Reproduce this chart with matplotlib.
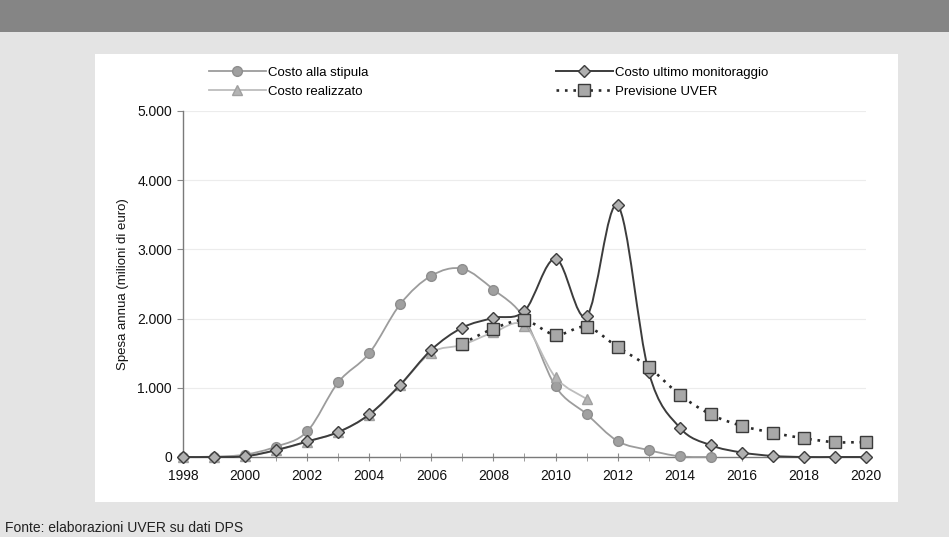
import matplotlib
matplotlib.use("Agg")
import matplotlib.pyplot as plt
from matplotlib.path import Path
from matplotlib.patches import PathPatch, Rectangle
from matplotlib.lines import Line2D
from matplotlib.ticker import FuncFormatter, MultipleLocator

plt.rcParams['font.family'] = ['Liberation Sans', 'DejaVu Sans']

stipula_years = list(range(1998, 2016))
stipula = [0, 5, 35, 150, 370, 1080, 1500, 2210, 2620, 2720, 2420, 2000,
           1020, 620, 230, 100, 10, 0]

realizzato_years = list(range(1998, 2012))
realizzato = [0, 0, 10, 95, 220, 360, 610, 1040, 1510, 1620, 1800, 1900,
              1150, 840]

monitoraggio_years = list(range(1998, 2021))
monitoraggio = [0, 0, 10, 100, 225, 360, 615, 1045, 1550, 1870, 2010, 2110,
                2865, 2035, 3635, 1230, 425, 170, 65, 15, 0, 0, 0]

uver_years = list(range(2007, 2021))
uver = [1640, 1855, 1975, 1765, 1880, 1590, 1300, 900, 615, 450, 350,
        270, 215, 215]

ytick_vals = [0, 1000, 2000, 3000, 4000, 5000]
xtick_vals = list(range(1998, 2021, 2))

W, H = 949, 537
fig = plt.figure(figsize=(W / 100, H / 100), dpi=100)
fig.patch.set_facecolor('#e4e4e4')

def fx(px):
    return px / W

def fy(py):
    return 1 - py / H

# header band
fig.patches.append(Rectangle((0, fy(32)), 1, 32 / H, transform=fig.transFigure,
                             facecolor='#858585', edgecolor='none', zorder=-2))
# white chart panel
fig.patches.append(Rectangle((fx(95), fy(502)), fx(898 - 95), (502 - 54) / H,
                             transform=fig.transFigure, facecolor='white',
                             edgecolor='none', zorder=-2))

ax = fig.add_axes([fx(183), fy(457), fx(866 - 183), (457 - 111) / H])
ax.set_zorder(2)
ax.set_facecolor('none')


def smooth_path(xs, ys):
    pts = list(zip(xs, ys))
    n = len(pts)
    verts = [pts[0]]
    codes = [Path.MOVETO]
    for i in range(n - 1):
        p0 = pts[i - 1] if i > 0 else pts[i]
        p1 = pts[i]
        p2 = pts[i + 1]
        p3 = pts[i + 2] if i + 2 < n else pts[i + 1]
        c1 = (p1[0] + (p2[0] - p0[0]) / 6, p1[1] + (p2[1] - p0[1]) / 6)
        c2 = (p2[0] - (p3[0] - p1[0]) / 6, p2[1] - (p3[1] - p1[1]) / 6)
        verts += [c1, c2, p2]
        codes += [Path.CURVE4] * 3
    return Path(verts, codes)


series = [
    (stipula_years, stipula, dict(color='#9c9c9c', lw=1.3, ls='-'),
     dict(marker='o', ms=7, mfc='#a0a0a0', mec='#8e8e8e'), 'Costo alla stipula'),
    (realizzato_years, realizzato, dict(color='#bdbdbd', lw=1.3, ls='-'),
     dict(marker='^', ms=7, mfc='#b4b4b4', mec='#a0a0a0'), 'Costo realizzato'),
    (monitoraggio_years, monitoraggio, dict(color='#3c3c3c', lw=1.4, ls='-'),
     dict(marker='D', ms=6, mfc='#b0b0b0', mec='#3c3c3c'), 'Costo ultimo monitoraggio'),
    (uver_years, uver, dict(color='#2a2a2a', lw=1.9, ls=(0, (1, 2.2))),
     dict(marker='s', ms=8, mfc='#a8a8a8', mec='#3a3a3a'), 'Previsione UVER'),
]

handles = {}
for z, (xs, ys, lstyle, mstyle, label) in enumerate(series):
    patch = PathPatch(smooth_path(xs, ys), facecolor='none',
                      edgecolor=lstyle['color'], lw=lstyle['lw'],
                      linestyle=lstyle['ls'], zorder=3 + z, clip_on=False)
    ax.add_patch(patch)
    ax.plot(xs, ys, linestyle='none', zorder=3.5 + z, clip_on=False,
            mew=1.0, **mstyle)
    handles[label] = Line2D([], [], color=lstyle['color'], lw=lstyle['lw'],
                            linestyle=lstyle['ls'], mew=1.0, **mstyle)

ax.set_xlim(1998, 2020)
ax.set_ylim(0, 5000)
ax.set_xticks(xtick_vals)
ax.xaxis.set_minor_locator(MultipleLocator(1))
ax.set_yticks(ytick_vals)
ax.yaxis.set_major_formatter(FuncFormatter(lambda v, p: f"{int(v):,}".replace(',', '.')))
ax.grid(axis='y', color='#ececec', lw=0.8)
ax.set_axisbelow(True)
for s in ['top', 'right']:
    ax.spines[s].set_visible(False)
for s in ['left', 'bottom']:
    ax.spines[s].set_color('#7a7a7a')
    ax.spines[s].set_linewidth(1.0)
ax.tick_params(axis='x', which='both', direction='inout', length=6, color='#8a8a8a',
               labelsize=10, labelcolor='#111111', pad=6)
ax.tick_params(axis='x', which='minor', length=6)
ax.tick_params(axis='y', direction='out', length=4, color='#8a8a8a',
               labelsize=10, labelcolor='#111111', pad=4)
ax.set_ylabel('Spesa annua (milioni di euro)', fontsize=9.5, color='#111111', labelpad=6)

order = ['Costo alla stipula', 'Costo realizzato', 'Costo ultimo monitoraggio', 'Previsione UVER']
fig.legend([handles[k] for k in order], order, ncol=2, loc='center left',
           bbox_to_anchor=(fx(197), fy(82)), frameon=False, fontsize=9.5,
           handlelength=4.3, columnspacing=14.2, handletextpad=0.2,
           labelspacing=0.5)

fig.text(fx(5), fy(535), 'Fonte: elaborazioni UVER su dati DPS', fontsize=10,
         color='#222222', va='bottom', ha='left')

fig.savefig('out.png', dpi=100, facecolor=fig.get_facecolor())
